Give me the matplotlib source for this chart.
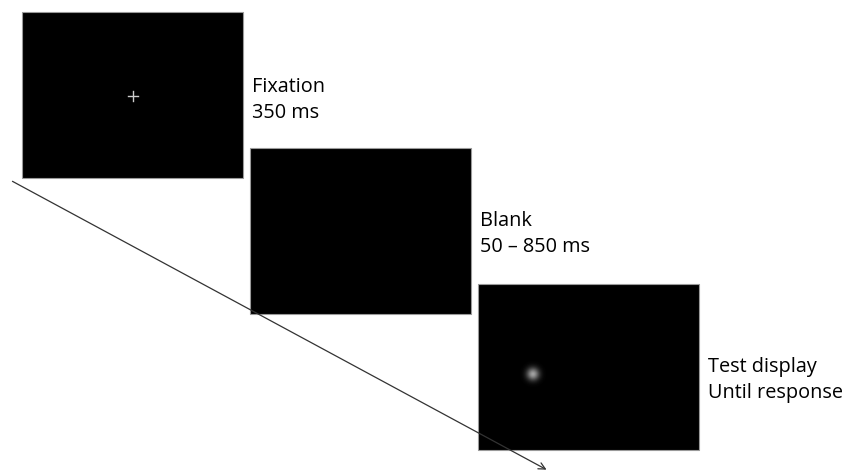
import numpy as np
import matplotlib.pyplot as plt
from matplotlib.patches import Rectangle

# trial sequence
screens = ["Fixation", "Blank", "Test display"]
durations = ["350 ms", "50 \u2013 850 ms", "Until response"]

fig = plt.figure(figsize=(8.45, 4.76), dpi=100)
ax = fig.add_axes([0, 0, 1, 1])
ax.set_xlim(0, 845)
ax.set_ylim(476, 0)
ax.axis('off')

# time arrow
ax.annotate('', xy=(549, 471), xytext=(10, 180),
            arrowprops=dict(arrowstyle='->', color='#333333', lw=0.9,
                            mutation_scale=12))

x0, y0 = 22, 12
w, h = 221, 166
dx, dy = 228, 136
base1 = [92, 226, 372]   # baseline of first label line
for i, (name, dur) in enumerate(zip(screens, durations)):
    x = x0 + i * dx
    y = y0 + i * dy
    ax.add_patch(Rectangle((x, y), w, h, facecolor='black',
                           edgecolor='#9a9a9a', lw=0.8, zorder=2))
    ax.text(x + w + 9, base1[i], name, fontsize=14.3, family='Open Sans',
            va='baseline', ha='left')
    ax.text(x + w + 9, base1[i] + 26, dur, fontsize=14.3, family='Open Sans',
            va='baseline', ha='left')

# fixation cross
cx, cy = x0 + w / 2 + 1, y0 + 84
ax.plot([cx - 5, cx + 5], [cy, cy], color='#cccccc', lw=1, zorder=3)
ax.plot([cx, cx], [cy - 5, cy + 5], color='#cccccc', lw=1, zorder=3)

# gaussian blob in test display
gx, gy = 533, 374
g = np.linspace(-1, 1, 41)
xx, yy = np.meshgrid(g, g)
blob = 0.8 * np.exp(-(xx ** 2 + yy ** 2) / (2 * 0.3 ** 2))
rgba = np.zeros((41, 41, 4))
rgba[..., :3] = 0.8
rgba[..., 3] = blob
ax.imshow(rgba, extent=(gx - 15, gx + 15, gy + 15, gy - 15), zorder=3,
          interpolation='bilinear')
ax.set_xlim(0, 845)
ax.set_ylim(476, 0)

fig.savefig('out.png', dpi=100, facecolor='white')
